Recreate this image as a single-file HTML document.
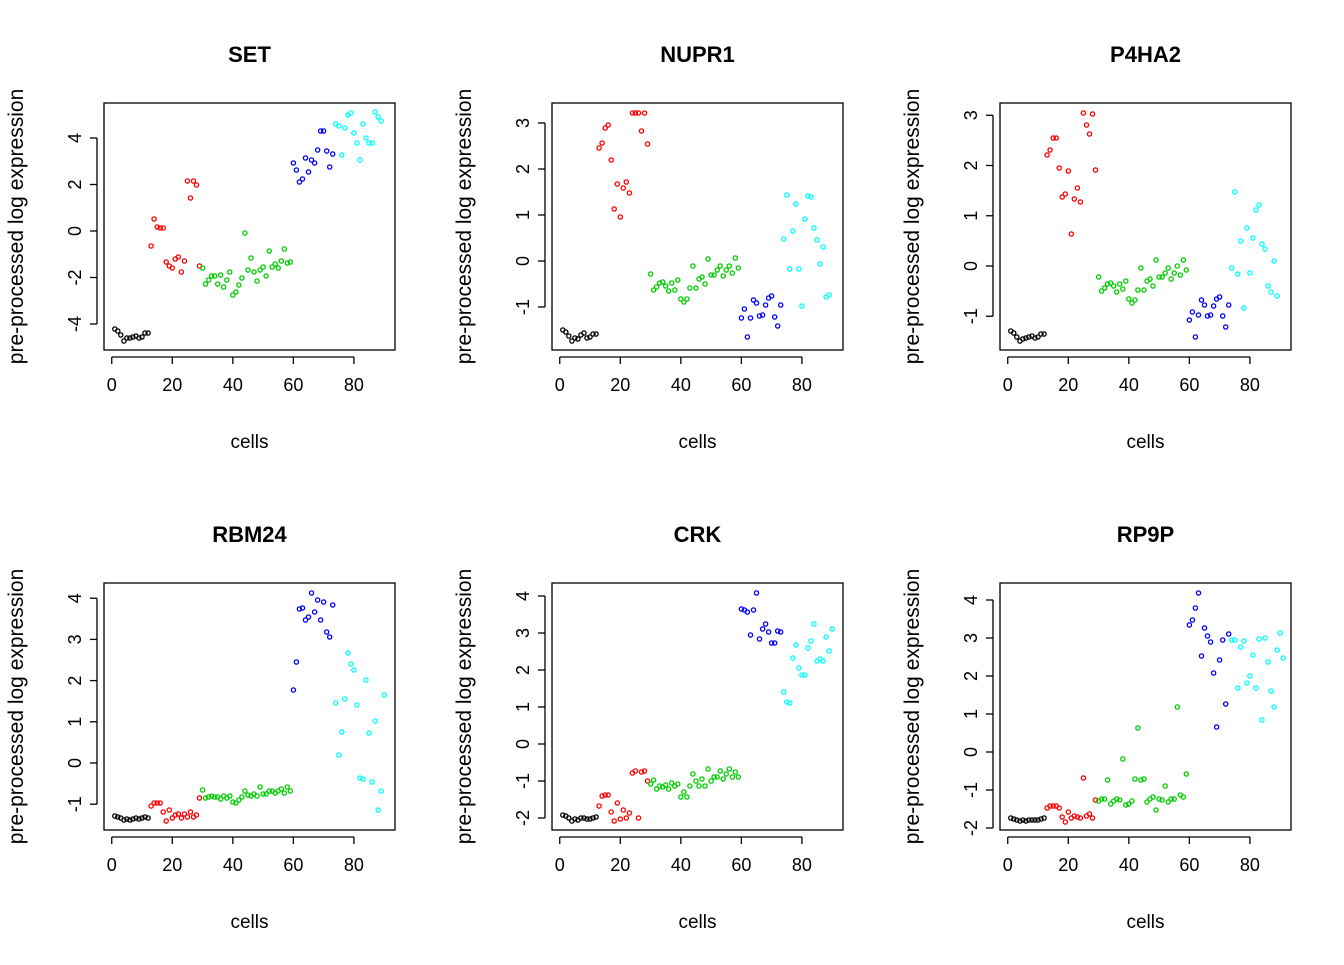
<!DOCTYPE html>
<html><head><meta charset="utf-8"><style>
html,body{margin:0;padding:0;background:#fff}
svg text{font-family:"Liberation Sans",Arial,sans-serif;fill:#000}
</style></head><body>
<svg id="s" width="1344" height="960" xmlns="http://www.w3.org/2000/svg"></svg>
<script>
const S=document.getElementById('s');let h='';
const cols=['#000','#FF0000','#00CD00','#0000FF','#00FFFF'];
const P=[
{t:'SET',dx:0,dy:0,y0:231,pu:23.25,yt:[-4,-2,0,2,4],g:[
[329,331,335,341,338,338,337,336,338,337,333,333],
[246,219,227,228,228,262,266,268,259,257,272,261,181,198,181,185,266],
[268,284,280,276,276,284,275,287,280,272,295,292,285,278,233,270,258,272,281,270,267,276,251,267,264,268,261,249,263,262],
[163,170,182,179,158,172,160,163,150,131,131,151,167,154],
[124,126,155,128,115,113,133,143,160,124,138,143,143,112,117,121]]},
{t:'NUPR1',dx:448,dy:0,y0:261,pu:46,yt:[-1,0,1,2,3],g:[
[330,332,336,341,338,339,335,333,338,337,334,334],
[148,143,128,125,160,209,184,217,188,182,193,113,113,113,131,113,144],
[274,290,287,283,282,286,291,283,290,280,299,302,299,288,266,288,279,277,284,259,275,275,270,266,276,270,266,273,258,268],
[318,309,337,318,300,303,316,315,305,298,296,317,326,305],
[239,195,269,231,204,269,306,219,196,197,228,240,264,247,297,295]]},
{t:'P4HA2',dx:896,dy:0,y0:266,pu:50.25,yt:[-1,0,1,2,3],g:[
[331,333,337,341,339,338,337,336,338,337,334,334],
[155,150,138,138,168,197,194,171,234,199,188,202,113,125,134,114,170],
[277,291,288,284,283,286,292,284,289,281,299,303,300,290,268,290,281,279,286,260,277,277,273,268,279,273,266,275,260,270],
[320,312,337,315,300,305,316,315,306,299,297,316,327,305],
[268,192,274,241,308,228,273,238,210,205,244,249,286,292,261,296]]},
{t:'RBM24',dx:0,dy:480,y0:763,pu:41.2,yt:[-1,0,1,2,3,4],g:[
[816,817,818,820,819,820,819,818,819,818,817,818],
[806,803,803,803,812,821,810,818,815,814,818,814,817,812,817,815,798],
[790,798,797,796,797,797,799,796,798,796,802,803,800,797,791,795,796,794,796,787,794,794,791,791,793,791,789,793,787,791],
[690,662,609,608,620,617,593,612,600,620,602,632,637,605],
[703,755,732,699,653,664,670,705,778,779,680,733,782,721,810,791,695]]},
{t:'CRK',dx:448,dy:480,y0:744,pu:37,yt:[-2,-1,0,1,2,3,4],g:[
[815,816,818,821,819,820,818,818,819,819,818,817],
[806,796,795,795,812,821,803,819,810,818,813,773,771,818,772,771,781],
[784,780,789,786,787,785,789,783,786,784,797,792,797,786,774,781,786,779,786,769,781,777,777,771,779,774,769,777,772,777],
[609,610,612,635,610,593,639,629,624,632,643,643,631,632],
[692,702,703,658,645,668,675,675,648,641,624,661,659,661,637,651,629]]},
{t:'RP9P',dx:896,dy:480,y0:752,pu:38,yt:[-2,-1,0,1,2,3,4],g:[
[818,819,820,821,820,821,820,820,820,820,819,818],
[808,806,806,806,808,817,822,812,818,816,817,818,778,816,814,818,800],
[801,799,799,780,804,801,799,800,759,805,804,801,779,728,780,779,802,799,797,810,799,800,786,802,799,799,707,795,797,774],
[625,620,608,593,656,628,636,642,673,727,660,640,704,634],
[640,640,688,647,641,683,676,655,688,639,720,638,662,691,707,650,633,658]]}];
P.forEach(p=>{
 const L=104+p.dx,R=395+p.dx,T=103+p.dy,B=350+p.dy,cx=(L+R)/2;
 const X=v=>L+(v+2.56)*3.027;
 h+=`<text x="${cx}" y="${62+p.dy}" font-size="22" font-weight="bold" text-anchor="middle">${p.t}</text>`;
 h+=`<rect x="${L}" y="${T}" width="${R-L}" height="${B-T}" fill="none" stroke="#000" stroke-width="1.3"/>`;
 h+=`<line x1="${X(0)}" x2="${X(80)}" y1="${B+7}" y2="${B+7}" stroke="#000" stroke-width="1.3"/>`;
 [0,20,40,60,80].forEach(v=>{h+=`<line x1="${X(v)}" x2="${X(v)}" y1="${B+7}" y2="${B+14}" stroke="#000" stroke-width="1.3"/><text x="${X(v)}" y="${B+41}" font-size="18" text-anchor="middle">${v}</text>`});
 const ys=p.yt.map(v=>p.y0-v*p.pu);
 h+=`<line x1="${L-7}" x2="${L-7}" y1="${ys[0]}" y2="${ys[ys.length-1]}" stroke="#000" stroke-width="1.3"/>`;
 p.yt.forEach((v,i)=>{const y=ys[i];h+=`<line x1="${L-14}" x2="${L-7}" y1="${y}" y2="${y}" stroke="#000" stroke-width="1.3"/><text transform="translate(${L-23},${y}) rotate(-90)" font-size="18" text-anchor="middle">${v}</text>`});
 h+=`<text x="${cx}" y="${B+98}" font-size="19" text-anchor="middle">cells</text>`;
 h+=`<text transform="translate(${L-81},${(T+B)/2}) rotate(-90)" font-size="21" text-anchor="middle">pre-processed log expression</text>`;
 let i=1;
 p.g.forEach((arr,gi)=>arr.forEach(y=>{h+=`<circle cx="${X(i).toFixed(1)}" cy="${y}" r="2.1" fill="none" stroke="${cols[gi]}" stroke-width="1.3"/>`;i++;}));
});
S.innerHTML=h;
</script>
</body></html>
